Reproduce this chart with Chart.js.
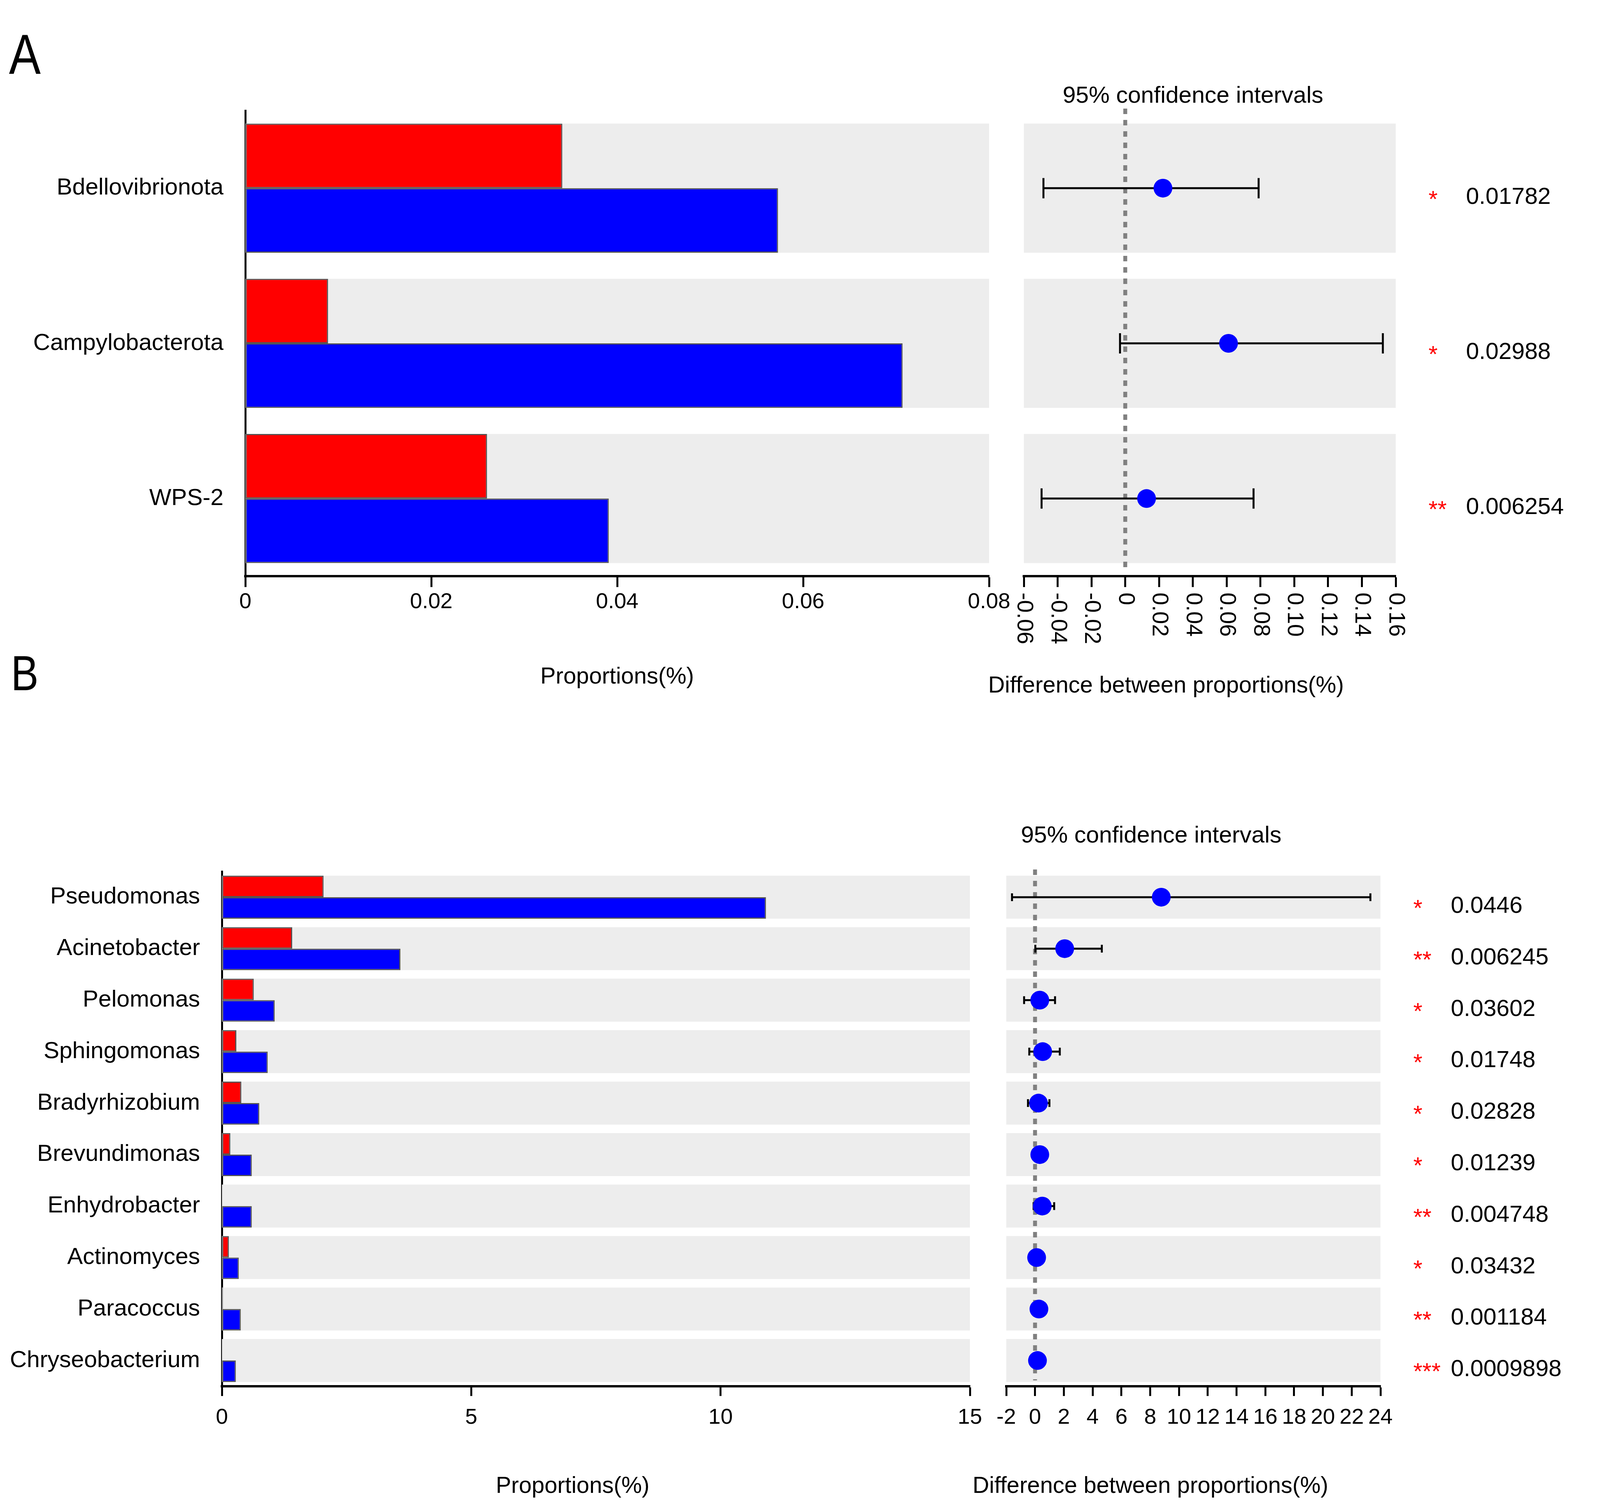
<!DOCTYPE html>
<html>
<head>
<meta charset="utf-8">
<script src="https://cdn.jsdelivr.net/npm/chart.js@4.4.1/dist/chart.umd.min.js"></script>
<style>
  html, body { margin: 0; padding: 0; background: #fff; }
  body { width: 4412px; height: 3853px; position: relative; overflow: hidden;
         font-family: 'Liberation Sans', Arial, sans-serif; }
  canvas { position: absolute; }
  .t { position: absolute; white-space: nowrap; line-height: 1; color: #000; }
  .c { transform: translateX(-50%); }
  .rot { transform: translate(-50%, -50%) rotate(90deg); }
  .sw { position: absolute; box-sizing: border-box; width: 62px; height: 62px; border: 5px solid #555; }
</style>
</head>
<body>

<div class="t" style="left:23px; top:67px; font-size:145px; transform:scaleX(0.84); transform-origin:left;">A</div>
<div class="t" style="left:28px; top:1661px; font-size:126px; transform:scaleX(0.84); transform-origin:left;">B</div>

<div class="sw" style="left:4230px; top:28px; background:#ff0000;"></div>
<div class="sw" style="left:4230px; top:127px; background:#0000ff;"></div>
<div class="t" style="left:4307px; top:31px; font-size:58px;">CB</div>
<div class="t" style="left:4315px; top:132px; font-size:58px;">H</div>

<div class="sw" style="left:4197px; top:1953px; background:#ff0000;"></div>
<div class="sw" style="left:4197px; top:2059px; background:#0000ff;"></div>
<div class="t" style="left:4280px; top:1965px; font-size:58px;">CB</div>
<div class="t" style="left:4280px; top:2048px; font-size:58px;">H</div>

<div class="t c" style="left:3054px; top:213px; font-size:60px;">95% confidence intervals</div>
<div class="t c" style="left:2947px; top:2107px; font-size:60px;">95% confidence intervals</div>

<div class="t c" style="left:1580px; top:1701px; font-size:59px;">Proportions(%)</div>
<div class="t c" style="left:2985px; top:1724px; font-size:59px;">Difference between proportions(%)</div>
<div class="t c" style="left:1466px; top:3773px; font-size:59px;">Proportions(%)</div>
<div class="t c" style="left:2945px; top:3773px; font-size:59px;">Difference between proportions(%)</div>

<div class="t rot" style="left:4130px; top:866px; font-size:60px;">pvalue</div>
<div class="t rot" style="left:4130px; top:2877px; font-size:60px;">pvalue</div>

<canvas id="barsA" width="2600" height="1650" style="left:0; top:0;"></canvas>
<canvas id="ciA" width="1912" height="1800" style="left:2500px; top:0;"></canvas>
<canvas id="barsB" width="2600" height="1953" style="left:0; top:1900px;"></canvas>
<canvas id="ciB" width="1912" height="1953" style="left:2500px; top:1900px;"></canvas>

<script>
// panel A (phylum level)
const phylaA = ['Bdellovibrionota', 'Campylobacterota', 'WPS-2'];
const cbA = [0.0341, 0.0089, 0.0260];
const hA = [0.0573, 0.0707, 0.0391];
const diffA = [0.0223, 0.0611, 0.0126];
const lowA = [-0.0484, -0.0031, -0.0495];
const highA = [0.0789, 0.1524, 0.0759];
const starsA = ['*', '*', '**'];
const pvalsA = ['0.01782', '0.02988', '0.006254'];
const propTicksA = [0, 0.02, 0.04, 0.06, 0.08];
const propLabelsA = ['0', '0.02', '0.04', '0.06', '0.08'];
const diffTicksA = [-0.06, -0.04, -0.02, 0, 0.02, 0.04, 0.06, 0.08, 0.10, 0.12, 0.14, 0.16];
const diffLabelsA = ['-0.06', '-0.04', '-0.02', '0', '0.02', '0.04', '0.06', '0.08', '0.10', '0.12', '0.14', '0.16'];

// panel B (genus level)
const generaB = ['Pseudomonas', 'Acinetobacter', 'Pelomonas', 'Sphingomonas', 'Bradyrhizobium',
                 'Brevundimonas', 'Enhydrobacter', 'Actinomyces', 'Paracoccus', 'Chryseobacterium'];
const cbB = [2.04, 1.41, 0.64, 0.29, 0.39, 0.17, 0.01, 0.14, 0.02, 0.01];
const hB = [10.91, 3.58, 1.06, 0.92, 0.75, 0.60, 0.60, 0.34, 0.38, 0.28];
const diffB = [8.77, 2.06, 0.33, 0.53, 0.24, 0.33, 0.50, 0.11, 0.27, 0.17];
const lowB = [-1.60, 0.02, -0.76, -0.40, -0.49, 0.05, -0.10, -0.20, 0.05, 0.00];
const highB = [23.3, 4.64, 1.39, 1.72, 1.00, 0.62, 1.33, 0.40, 0.50, 0.35];
const starsB = ['*', '**', '*', '*', '*', '*', '**', '*', '**', '***'];
const pvalsB = ['0.0446', '0.006245', '0.03602', '0.01748', '0.02828', '0.01239', '0.004748', '0.03432', '0.001184', '0.0009898'];
const propTicksB = [0, 5, 10, 15];
const propLabelsB = ['0', '5', '10', '15'];
const diffTicksB = [-2, 0, 2, 4, 6, 8, 10, 12, 14, 16, 18, 20, 22, 24];
const diffLabelsB = ['-2', '0', '2', '4', '6', '8', '10', '12', '14', '16', '18', '20', '22', '24'];

const FONT = "'Liberation Sans', Arial, sans-serif";
Chart.defaults.font.family = FONT;
Chart.defaults.color = '#000';

// grey band behind every row
function bandsPlugin(count, frac) {
    return {
        id: 'bands',
        beforeDatasetsDraw(chart) {
            const { ctx, chartArea: a, scales: { y } } = chart;
            const step = Math.abs(y.getPixelForValue(1) - y.getPixelForValue(0));
            const h = step * frac;
            ctx.save();
            ctx.fillStyle = '#ededed';
            for (let i = 0; i < count; i++) {
                const c = y.getPixelForValue(i);
                ctx.fillRect(a.left, c - h / 2, a.right - a.left, h);
            }
            ctx.restore();
        }
    };
}

// zero line + confidence interval whiskers
function ciPlugin(low, high, cap, width) {
    return {
        id: 'ciMarks',
        beforeDatasetsDraw(chart) {
            const { ctx, chartArea: a, scales: { x, y } } = chart;
            ctx.save();
            const x0 = x.getPixelForValue(0);
            ctx.strokeStyle = '#808080';
            ctx.lineWidth = 10;
            ctx.setLineDash([14, 15]);
            ctx.beginPath();
            ctx.moveTo(x0, a.top - 5);
            ctx.lineTo(x0, a.bottom - 15);
            ctx.stroke();
            ctx.setLineDash([]);
            ctx.strokeStyle = '#000';
            ctx.lineWidth = width;
            low.forEach((lo, i) => {
                const yc = y.getPixelForValue(i);
                const xl = x.getPixelForValue(lo);
                const xr = x.getPixelForValue(high[i]);
                ctx.beginPath();
                ctx.moveTo(xl, yc); ctx.lineTo(xr, yc);
                ctx.moveTo(xl, yc - cap); ctx.lineTo(xl, yc + cap);
                ctx.moveTo(xr, yc - cap); ctx.lineTo(xr, yc + cap);
                ctx.stroke();
            });
            ctx.restore();
        }
    };
}

// significance stars and p values to the right of the CI panel
function pvalPlugin(stars, values) {
    return {
        id: 'pvals',
        afterDraw(chart) {
            const { ctx, chartArea: a, scales: { y } } = chart;
            ctx.save();
            ctx.font = '60px ' + FONT;
            ctx.textAlign = 'left';
            ctx.textBaseline = 'alphabetic';
            stars.forEach((s, i) => {
                const yc = y.getPixelForValue(i);
                ctx.fillStyle = '#ff0000';
                ctx.fillText(s, a.right + 84, yc + 48);
                ctx.fillStyle = '#000';
                ctx.fillText(values[i], a.right + 180, yc + 40);
            });
            ctx.restore();
        }
    };
}

// tick labels turned 90 degrees clockwise (panel A difference axis)
function vertTicksPlugin(labels) {
    return {
        id: 'vertTicks',
        afterDraw(chart) {
            const { ctx, scales: { x } } = chart;
            ctx.save();
            ctx.font = '58px ' + FONT;
            ctx.fillStyle = '#000';
            ctx.textAlign = 'left';
            ctx.textBaseline = 'middle';
            x.ticks.forEach((t, i) => {
                ctx.save();
                ctx.translate(x.getPixelForTick(i), x.top + 42);
                ctx.rotate(Math.PI / 2);
                ctx.fillText(labels[i], 0, 0);
                ctx.restore();
            });
            ctx.restore();
        }
    };
}

function barChart(id, labels, cb, h, max, tickVals, tickLabels, lay) {
    return new Chart(document.getElementById(id), {
        type: 'bar',
        data: {
            labels: labels,
            datasets: [{
                label: 'CB',
                data: cb,
                backgroundColor: '#ff0000',
                borderColor: '#555555',
                borderWidth: 3,
                borderSkipped: false,
                categoryPercentage: lay.frac,
                barPercentage: 1,
            }, {
                label: 'H',
                data: h,
                backgroundColor: '#0000ff',
                borderColor: '#555555',
                borderWidth: 3,
                borderSkipped: false,
                categoryPercentage: lay.frac,
                barPercentage: 1,
            }]
        },
        options: {
            indexAxis: 'y',
            responsive: false,
            animation: false,
            devicePixelRatio: 1,
            layout: { padding: { left: 0, top: lay.top, right: lay.right, bottom: 0 } },
            plugins: { legend: { display: false }, tooltip: { enabled: false } },
            scales: {
                x: {
                    type: 'linear',
                    position: 'bottom',
                    min: 0,
                    max: max,
                    z: 1,
                    afterBuildTicks: s => { s.ticks = tickVals.map(v => ({ value: v })); },
                    afterFit: s => { s.height = lay.xHeight; },
                    border: { display: true, color: '#000', width: 6 },
                    grid: { display: true, drawOnChartArea: false, drawTicks: true,
                            tickLength: lay.tickLen, tickWidth: 5, tickColor: '#000' },
                    ticks: { autoSkip: false, maxRotation: 0, minRotation: 0, padding: lay.tickPad,
                             font: { size: 56 }, color: '#000',
                             callback: (v, i) => tickLabels[i] }
                },
                y: {
                    type: 'category',
                    z: 1,
                    afterFit: s => { s.width = lay.yWidth; },
                    border: { display: true, color: '#000', width: 5 },
                    grid: { display: false },
                    ticks: { autoSkip: false, padding: 48, font: { size: 60 }, color: '#000' }
                }
            }
        },
        plugins: [bandsPlugin(labels.length, lay.frac)]
    });
}

function ciChart(id, n, diff, low, high, min, max, tickVals, tickLabels, stars, pvals, lay) {
    const extra = lay.vertical ? [vertTicksPlugin(tickLabels)] : [];
    return new Chart(document.getElementById(id), {
        type: 'scatter',
        data: {
            datasets: [{
                label: 'difference',
                data: diff.map((d, i) => ({ x: d, y: i })),
                pointRadius: 24,
                pointHoverRadius: 24,
                backgroundColor: '#0000ff',
                borderWidth: 0
            }]
        },
        options: {
            responsive: false,
            animation: false,
            devicePixelRatio: 1,
            layout: { padding: { left: lay.left, top: lay.top, right: lay.right, bottom: 0 } },
            plugins: { legend: { display: false }, tooltip: { enabled: false } },
            scales: {
                x: {
                    type: 'linear',
                    position: 'bottom',
                    min: min,
                    max: max,
                    z: 1,
                    afterBuildTicks: s => { s.ticks = tickVals.map(v => ({ value: v })); },
                    afterFit: s => { s.height = lay.xHeight; },
                    border: { display: true, color: '#000', width: 6 },
                    grid: { display: true, drawOnChartArea: false, drawTicks: true,
                            tickLength: lay.tickLen, tickWidth: 5, tickColor: '#000' },
                    ticks: { display: !lay.vertical, autoSkip: false, maxRotation: 0, minRotation: 0,
                             padding: lay.tickPad, font: { size: 56 }, color: '#000',
                             callback: (v, i) => tickLabels[i] }
                },
                y: { type: 'linear', display: false, reverse: true, min: -0.5, max: n - 0.5 }
            }
        },
        plugins: [bandsPlugin(n, lay.frac), ciPlugin(low, high, lay.cap, lay.lineW),
                  pvalPlugin(stars, pvals)].concat(extra)
    });
}

barChart('barsA', phylaA, cbA, hA, 0.08, propTicksA, propLabelsA,
    { frac: 0.832, top: 283, right: 68, yWidth: 628, xHeight: 175, tickLen: 28, tickPad: 5 });

ciChart('ciA', phylaA.length, diffA, lowA, highA, -0.06, 0.16, diffTicksA, diffLabelsA, starsA, pvalsA,
    { frac: 0.832, left: 121, top: 283, right: 839, xHeight: 325, tickLen: 28, tickPad: 5,
      cap: 26, lineW: 5, vertical: true });

barChart('barsB', generaB, cbB, hB, 15, propTicksB, propLabelsB,
    { frac: 0.835, top: 331, right: 117, yWidth: 568, xHeight: 304, tickLen: 25, tickPad: 22 });

ciChart('ciB', generaB.length, diffB, lowB, highB, -2, 24, diffTicksB, diffLabelsB, starsB, pvalsB,
    { frac: 0.835, left: 76, top: 331, right: 878, xHeight: 304, tickLen: 25, tickPad: 22,
      cap: 10, lineW: 5, vertical: false });
</script>
</body>
</html>
